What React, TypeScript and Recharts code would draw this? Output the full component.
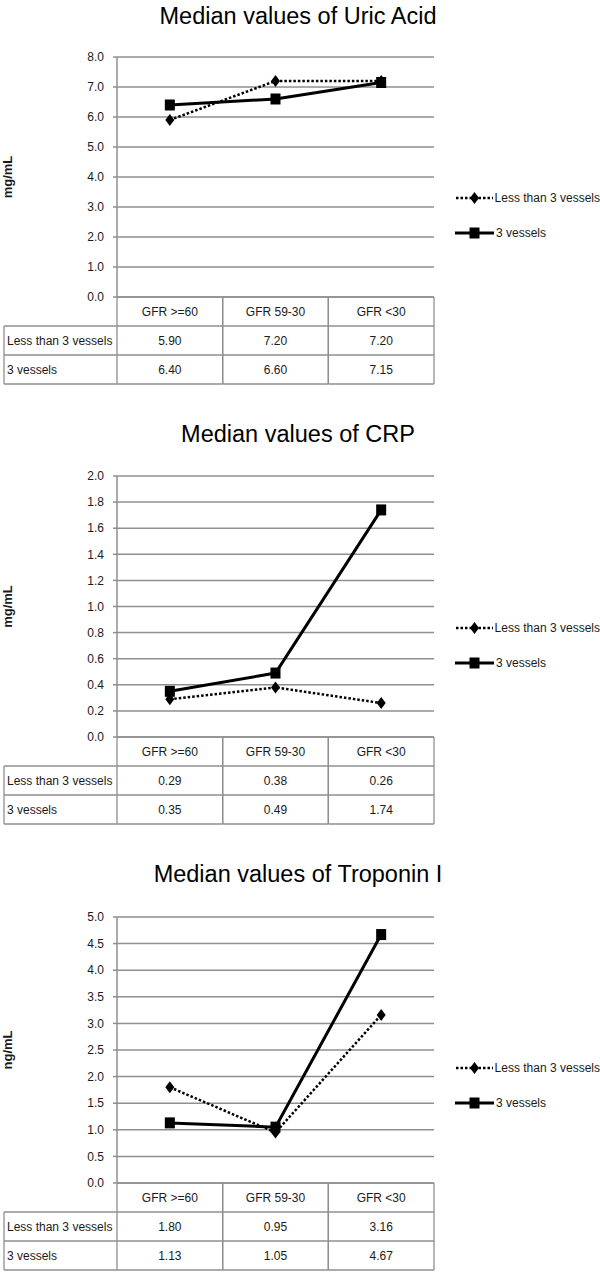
import React from 'react';
import { LineChart, Line, XAxis, YAxis, CartesianGrid, Legend } from 'recharts';

const categories = ['GFR >=60', 'GFR 59-30', 'GFR <30'];
const seriesNames = ['Less than 3 vessels', '3 vessels'];

const uricLess = [5.9, 7.2, 7.2];
const uricThree = [6.4, 6.6, 7.15];
const uricTicks = [0, 1, 2, 3, 4, 5, 6, 7, 8];

const crpLess = [0.29, 0.38, 0.26];
const crpThree = [0.35, 0.49, 1.74];
const crpTicks = [0, 0.2, 0.4, 0.6, 0.8, 1.0, 1.2, 1.4, 1.6, 1.8, 2.0];

const tropLess = [1.8, 0.95, 3.16];
const tropThree = [1.13, 1.05, 4.67];
const tropTicks = [0, 0.5, 1.0, 1.5, 2.0, 2.5, 3.0, 3.5, 4.0, 4.5, 5.0];

const FONT = "'Liberation Sans', Arial, sans-serif";
const W = 600;
const PLOT_LEFT = 117;
const PLOT_RIGHT = 434;
const BAND = (PLOT_RIGHT - PLOT_LEFT) / categories.length;
const ROW_H = 29;
const TABLE_LEFT = 4;
const GRID = '#8f8f8f';
const TEXT = '#1a1a1a';

const Diamond = (props: any) => {
  const { cx, cy } = props;
  if (cx == null || cy == null) return null;
  return <path d={`M${cx},${cy - 6}L${cx + 4.5},${cy}L${cx},${cy + 6}L${cx - 4.5},${cy}Z`} fill="#000" />;
};

const Square = (props: any) => {
  const { cx, cy } = props;
  if (cx == null || cy == null) return null;
  return <rect x={cx - 5} y={cy - 5.5} width={10} height={11} fill="#000" />;
};

const UnitLabel = ({ viewBox, text }: any) => {
  if (!viewBox) return null;
  const cy = viewBox.y + viewBox.height / 2;
  return (
    <text
      x={7}
      y={cy}
      transform={`rotate(-90 7 ${cy})`}
      textAnchor="middle"
      dominantBaseline="central"
      fontFamily={FONT}
      fontWeight="bold"
      fontSize={13}
      fill={TEXT}
    >
      {text}
    </text>
  );
};

const TableTick = ({ x, y, payload, rows }: any) => {
  const idx = categories.indexOf(payload.value);
  const left = x - BAND / 2;
  const right = x + BAND / 2;
  const line = { stroke: GRID, strokeWidth: 1.3 };
  const txt = { fontFamily: FONT, fontSize: 12, fill: TEXT, dominantBaseline: 'central' as const };
  return (
    <g>
      <line x1={left} y1={y} x2={left} y2={y + 3 * ROW_H} {...line} />
      <line x1={right} y1={y} x2={right} y2={y + 3 * ROW_H} {...line} />
      <line x1={left} y1={y + ROW_H} x2={right} y2={y + ROW_H} {...line} />
      <line x1={left} y1={y + 2 * ROW_H} x2={right} y2={y + 2 * ROW_H} {...line} />
      <line x1={left} y1={y + 3 * ROW_H} x2={right} y2={y + 3 * ROW_H} {...line} />
      <text x={x} y={y + ROW_H / 2} textAnchor="middle" {...txt}>{payload.value}</text>
      {rows.map((r: number[], i: number) => (
        <text key={i} x={x} y={y + ROW_H * (i + 1) + ROW_H / 2} textAnchor="middle" {...txt}>
          {r[idx].toFixed(2)}
        </text>
      ))}
      {idx === 0 && (
        <g>
          <line x1={TABLE_LEFT} y1={y + ROW_H} x2={TABLE_LEFT} y2={y + 3 * ROW_H} {...line} />
          <line x1={TABLE_LEFT} y1={y + ROW_H} x2={left} y2={y + ROW_H} {...line} />
          <line x1={TABLE_LEFT} y1={y + 2 * ROW_H} x2={left} y2={y + 2 * ROW_H} {...line} />
          <line x1={TABLE_LEFT} y1={y + 3 * ROW_H} x2={left} y2={y + 3 * ROW_H} {...line} />
          {seriesNames.map((n, i) => (
            <text key={n} x={TABLE_LEFT + 3} y={y + ROW_H * (i + 1) + ROW_H / 2} textAnchor="start" {...txt}>
              {n}
            </text>
          ))}
        </g>
      )}
    </g>
  );
};

const LegendBox = () => (
  <div style={{ fontFamily: FONT, fontSize: 12, color: TEXT }}>
    {seriesNames.map((n, i) => (
      <div key={n} style={{ display: 'flex', alignItems: 'center', height: 20, marginBottom: i === 0 ? 15 : 0 }}>
        <svg width={40} height={20}>
          {i === 0 ? (
            <g>
              <line x1={1} y1={10} x2={38} y2={10} stroke="#000" strokeWidth={2.5} strokeDasharray="2.5 2" />
              <path d="M19.5,4L24,10L19.5,16L15,10Z" fill="#000" />
            </g>
          ) : (
            <g>
              <line x1={0} y1={10} x2={39} y2={10} stroke="#000" strokeWidth={3} />
              <rect x={14.5} y={4.5} width={10} height={11} fill="#000" />
            </g>
          )}
        </svg>
        <span style={{ marginLeft: 1, whiteSpace: 'nowrap' }}>{n}</span>
      </div>
    ))}
  </div>
);

interface PanelProps {
  top: number;
  height: number;
  titleTop: number;
  title: string;
  unit: string;
  less: number[];
  three: number[];
  ticks: number[];
  plotTop: number;
  plotBottom: number;
  legendTop: number;
}

const Panel = ({ top, height, titleTop, title, unit, less, three, ticks, plotTop, plotBottom, legendTop }: PanelProps) => {
  const data = categories.map((c, i) => ({ category: c, less: less[i], three: three[i] }));
  const tableH = 3 * ROW_H;
  return (
    <div style={{ position: 'absolute', left: 0, top, width: W, height }}>
      <div
        style={{
          position: 'absolute',
          left: 98,
          width: 400,
          top: titleTop,
          textAlign: 'center',
          fontFamily: FONT,
          fontSize: 23.5,
          lineHeight: '24px',
          color: '#000',
          whiteSpace: 'nowrap',
        }}
      >
        {title}
      </div>
      <LineChart
        width={W}
        height={height}
        data={data}
        margin={{ top: plotTop, right: W - PLOT_RIGHT, bottom: height - plotBottom - tableH, left: 0 }}
      >
        <CartesianGrid vertical={false} stroke={GRID} strokeWidth={1.5} />
        <XAxis
          dataKey="category"
          interval={0}
          height={tableH}
          padding={{ left: BAND / 2, right: BAND / 2 }}
          tickSize={0}
          tickMargin={0}
          tickLine={false}
          axisLine={{ stroke: GRID, strokeWidth: 1.5 }}
          tick={(p: any) => <TableTick {...p} rows={[less, three]} />}
        />
        <YAxis
          width={PLOT_LEFT}
          domain={[0, ticks[ticks.length - 1]]}
          ticks={ticks}
          interval={0}
          tickSize={4}
          tickMargin={9}
          tickFormatter={(v: number) => v.toFixed(1)}
          tick={{ fontSize: 12, fill: TEXT, fontFamily: FONT }}
          axisLine={{ stroke: GRID, strokeWidth: 1.5 }}
          tickLine={{ stroke: GRID, strokeWidth: 1.5 }}
          label={<UnitLabel text={unit} />}
        />
        <Legend
          layout="vertical"
          align="center"
          verticalAlign="middle"
          wrapperStyle={{ left: 455, top: legendTop, width: 145 }}
          content={() => <LegendBox />}
        />
        <Line
          dataKey="less"
          name={seriesNames[0]}
          stroke="#000"
          strokeWidth={2.5}
          strokeDasharray="2.5 2"
          dot={<Diamond />}
          activeDot={false}
          isAnimationActive={false}
        />
        <Line
          dataKey="three"
          name={seriesNames[1]}
          stroke="#000"
          strokeWidth={3}
          dot={<Square />}
          activeDot={false}
          isAnimationActive={false}
        />
      </LineChart>
    </div>
  );
};

export default function App() {
  return (
    <div style={{ position: 'absolute', left: 0, top: 0, width: W, height: 1272, background: '#fff' }}>
      <Panel
        top={0}
        height={400}
        titleTop={4}
        title="Median values of Uric Acid"
        unit="mg/mL"
        less={uricLess}
        three={uricThree}
        ticks={uricTicks}
        plotTop={57}
        plotBottom={297}
        legendTop={188}
      />
      <Panel
        top={420}
        height={420}
        titleTop={2}
        title="Median values of CRP"
        unit="mg/mL"
        less={crpLess}
        three={crpThree}
        ticks={crpTicks}
        plotTop={56}
        plotBottom={317}
        legendTop={198}
      />
      <Panel
        top={840}
        height={432}
        titleTop={22}
        title="Median values of Troponin I"
        unit="ng/mL"
        less={tropLess}
        three={tropThree}
        ticks={tropTicks}
        plotTop={77}
        plotBottom={343}
        legendTop={218}
      />
    </div>
  );
}
